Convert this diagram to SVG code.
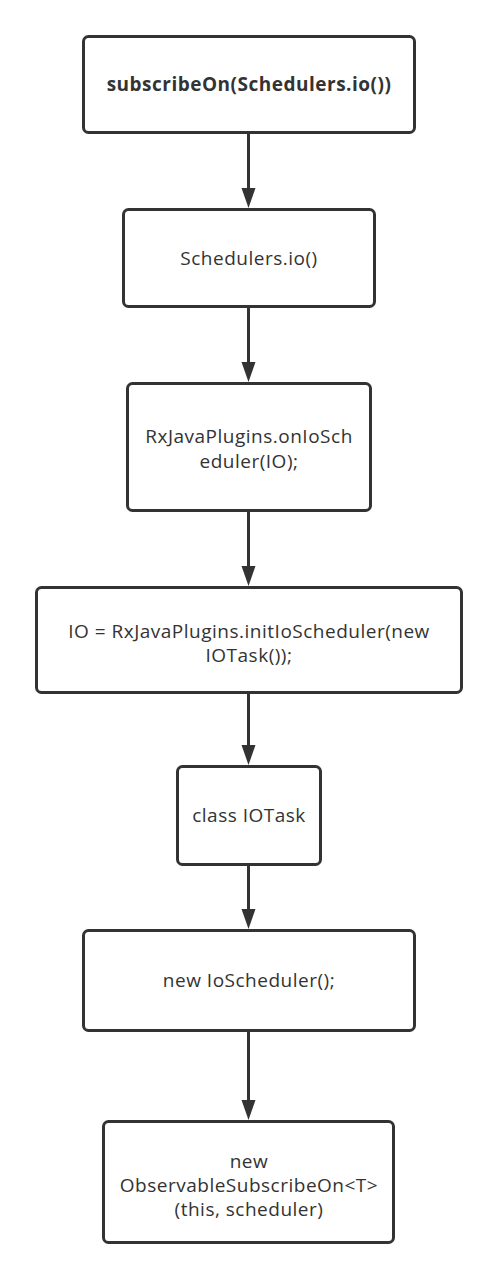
<svg xmlns="http://www.w3.org/2000/svg" width="498" height="1280" viewBox="0 0 498 1280">
<style>
.box{fill:#fff;stroke:#333;stroke-width:3}
.t{font-family:"Open Sans","Noto Sans","Liberation Sans",sans-serif;font-size:19px;letter-spacing:0.5px;fill:#333;text-anchor:middle}
.b{font-weight:bold;letter-spacing:0.5px}
.c{stroke:#333;stroke-width:3;fill:none}
</style>
<rect width="498" height="1280" fill="#fff"/>
<g id="connectors">
<path class="c" d="M248.5,133 V189"/><path d="M241.5,188 H255.5 L248.5,208 Z" fill="#333"/>
<path class="c" d="M248.5,307 V363"/><path d="M241.5,362 H255.5 L248.5,382 Z" fill="#333"/>
<path class="c" d="M248.5,511 V567"/><path d="M241.5,566 H255.5 L248.5,586 Z" fill="#333"/>
<path class="c" d="M248.5,693 V746"/><path d="M241.5,745 H255.5 L248.5,765 Z" fill="#333"/>
<path class="c" d="M248.5,865 V910"/><path d="M241.5,909 H255.5 L248.5,929 Z" fill="#333"/>
<path class="c" d="M248.5,1031 V1101"/><path d="M241.5,1100 H255.5 L248.5,1120 Z" fill="#333"/>
</g>
<g id="n1"><rect class="box" x="83.5" y="36.5" width="331" height="96" rx="5"/><text class="t b" x="249" y="91">subscribeOn(Schedulers.io())</text></g>
<g id="n2"><rect class="box" x="123.5" y="209.5" width="251" height="97" rx="5"/><text class="t" x="249" y="265">Schedulers.io()</text></g>
<g id="n3"><rect class="box" x="127.5" y="383.5" width="243" height="127" rx="5"/><text class="t" x="249" y="443">RxJavaPlugins.onIoSch</text><text class="t" x="249" y="468">eduler(IO);</text></g>
<g id="n4"><rect class="box" x="36.5" y="587.5" width="425" height="105" rx="5"/><text class="t" x="249" y="638">IO = RxJavaPlugins.initIoScheduler(new</text><text class="t" x="249" y="662">IOTask());</text></g>
<g id="n5"><rect class="box" x="177.5" y="766.5" width="143" height="98" rx="5"/><text class="t" x="249" y="822">class IOTask</text></g>
<g id="n6"><rect class="box" x="83.5" y="930.5" width="331" height="100" rx="5"/><text class="t" x="249" y="987">new IoScheduler();</text></g>
<g id="n7"><rect class="box" x="103.5" y="1121.5" width="290" height="121" rx="5"/><text class="t" x="249" y="1168">new</text><text class="t" x="249" y="1192">ObservableSubscribeOn&lt;T&gt;</text><text class="t" x="249" y="1216">(this, scheduler)</text></g>
</svg>
